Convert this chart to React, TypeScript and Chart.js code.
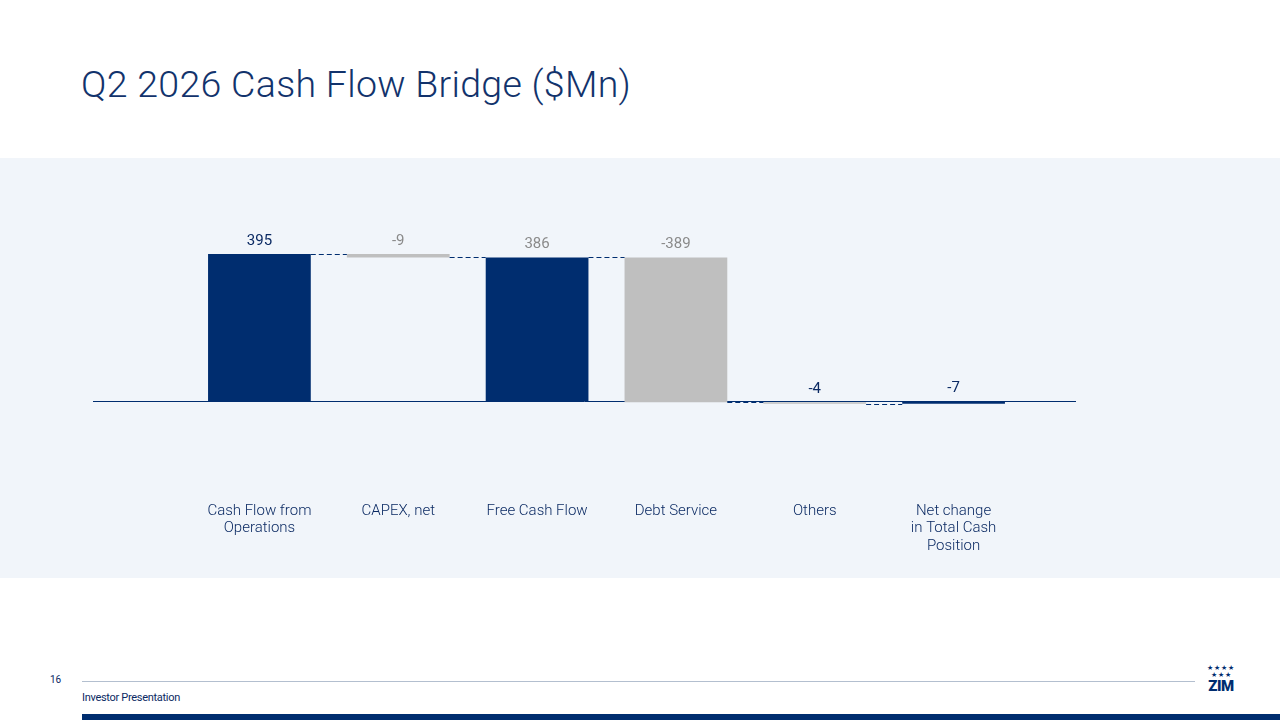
import React, { useEffect, useRef } from 'react'
import { Chart, registerables } from 'chart.js'

Chart.register(...registerables)

// categories and values of the bridge
const categories: string[][] = [
  ['Cash Flow from', 'Operations'],
  ['CAPEX, net'],
  ['Free Cash Flow'],
  ['Debt Service'],
  ['Others'],
  ['Net change', 'in Total Cash', 'Position'],
]
const values = [395, -9, 386, -389, -4, -7]
// true = bar drawn from zero (subtotal), false = step from running total
const isTotal = [true, false, true, false, false, true]
const labelColors = ['#0b2a63', '#8a8a8a', '#8a8a8a', '#8a8a8a', '#0b2a63', '#0b2a63']

const NAVY = '#002d6f'
const GREY = '#bfbfbf'
const TEXT = '#0b2a63'

// running totals -> floating ranges
const ends: number[] = []
const ranges: [number, number][] = []
{
  let run = 0
  values.forEach((v, i) => {
    if (isTotal[i]) {
      ranges.push([0, v])
      run = v
    } else {
      ranges.push([run + v, run])
      run = run + v
    }
    ends.push(run)
  })
}

const bridgePlugin = {
  id: 'bridge',
  beforeDatasetsDraw(chart: any) {
    const { ctx, chartArea, scales } = chart
    const y0 = Math.round(scales.y.getPixelForValue(0)) + 0.5
    ctx.save()
    ctx.strokeStyle = NAVY
    ctx.lineWidth = 1
    ctx.beginPath()
    ctx.moveTo(chartArea.left - 97, y0)
    ctx.lineTo(chartArea.right + 53, y0)
    ctx.stroke()
    ctx.restore()
  },
  afterDatasetsDraw(chart: any) {
    const { ctx, scales } = chart
    const bars = chart.getDatasetMeta(0).data
    ctx.save()
    // connectors
    ctx.strokeStyle = NAVY
    ctx.lineWidth = 1
    ctx.setLineDash([5, 3])
    for (let i = 0; i < bars.length - 1; i++) {
      const a = bars[i]
      const b = bars[i + 1]
      const y = Math.round(scales.y.getPixelForValue(ends[i])) + 0.5
      ctx.beginPath()
      ctx.moveTo(a.x + a.width / 2, y)
      ctx.lineTo(b.x - b.width / 2, y)
      ctx.stroke()
    }
    ctx.setLineDash([])
    // value labels
    ctx.font = '15px Roboto'
    ctx.textAlign = 'center'
    ctx.textBaseline = 'middle'
    bars.forEach((bar: any, i: number) => {
      const top = Math.min(bar.y, bar.base)
      ctx.fillStyle = labelColors[i]
      ctx.fillText(String(values[i]), bar.x, top - 13)
    })
    ctx.restore()
  },
}

const BridgeChart: React.FC = () => {
  const ref = useRef<HTMLCanvasElement | null>(null)

  useEffect(() => {
    if (!ref.current) return
    const chart = new Chart(ref.current, {
      type: 'bar',
      data: {
        labels: categories,
        datasets: [
          {
            data: ranges as any,
            backgroundColor: isTotal.map((t) => (t ? NAVY : GREY)),
            borderWidth: 0,
            barPercentage: 0.74,
            categoryPercentage: 1,
            borderSkipped: false,
          },
        ],
      },
      options: {
        responsive: false,
        animation: false,
        layout: { padding: { top: 57, left: 190, right: 257, bottom: 0 } },
        plugins: { legend: { display: false }, tooltip: { enabled: false } },
        scales: {
          x: {
            grid: { display: false, drawTicks: false },
            border: { display: false },
            ticks: {
              color: TEXT,
              padding: 4,
              font: { family: 'Roboto', size: 15, weight: 300, lineHeight: 1.17 },
              maxRotation: 0,
              autoSkip: false,
            },
            afterFit: (scale: any) => {
              scale.height = 80
            },
          },
          y: {
            display: false,
            min: -260,
            max: 500,
          },
        },
      },
      plugins: [bridgePlugin],
    })
    return () => chart.destroy()
  }, [])

  return <canvas ref={ref} width={1280} height={420} />
}

export default function App() {
  return (
    <div
      style={{
        position: 'absolute',
        left: 0,
        top: 0,
        width: 1280,
        height: 720,
        overflow: 'hidden',
        background: '#ffffff',
        fontFamily: 'Roboto, sans-serif',
      }}
    >
      <div
        style={{
          position: 'absolute',
          left: 81,
          top: 62,
          fontSize: 37.5,
          fontWeight: 300,
          letterSpacing: 0.3,
          color: '#12336c',
          whiteSpace: 'nowrap',
        }}
      >
        Q2 2026 Cash Flow Bridge ($Mn)
      </div>
      <div style={{ position: 'absolute', left: 0, top: 158, width: 1280, height: 420, background: '#f1f5fa' }}>
        <BridgeChart />
      </div>
      <div style={{ position: 'absolute', left: 50, top: 674, fontSize: 10, color: TEXT }}>16</div>
      <div style={{ position: 'absolute', left: 82, top: 681, width: 1113, height: 1, background: '#b3bfcf' }} />
      <div style={{ position: 'absolute', left: 82, top: 691, fontSize: 11, color: TEXT, letterSpacing: -0.3 }}>
        Investor Presentation
      </div>
      <div
        style={{
          position: 'absolute',
          left: 1203,
          top: 665,
          width: 36,
          textAlign: 'center',
          color: NAVY,
          lineHeight: 1,
        }}
      >
        <div style={{ fontSize: 7, letterSpacing: 1 }}>★★★★</div>
        <div style={{ fontSize: 7, letterSpacing: 1 }}>★★★</div>
        <div style={{ fontSize: 15, fontWeight: 900, letterSpacing: -0.5 }}>ZIM</div>
      </div>
      <div style={{ position: 'absolute', left: 82, top: 714, width: 1198, height: 6, background: NAVY }} />
    </div>
  )
}
